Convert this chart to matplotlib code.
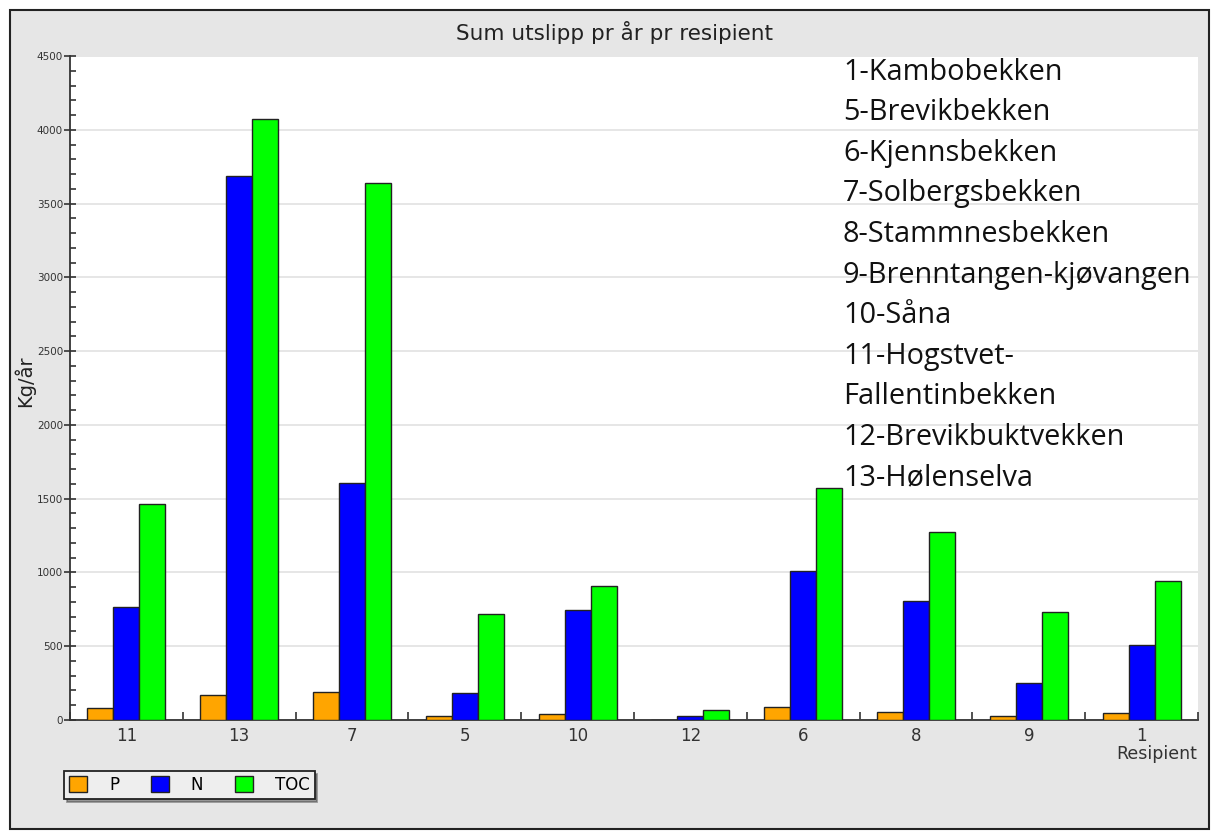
import numpy as np
import matplotlib
matplotlib.use('Agg')
import matplotlib.pyplot as plt
from matplotlib.patches import Rectangle
from matplotlib.ticker import MultipleLocator

resipienter = ['11', '13', '7', '5', '10', '12', '6', '8', '9', '1']
p_vals = [81, 169, 190, 29, 40, 0, 90, 56, 27, 45]
n_vals = [766, 3687, 1606, 183, 745, 27, 1010, 808, 253, 508]
toc_vals = [1462, 4075, 3639, 718, 910, 68, 1572, 1274, 734, 940]

navn = ['1-Kambobekken', '5-Brevikbekken', '6-Kjennsbekken', '7-Solbergsbekken',
        '8-Stammnesbekken', '9-Brenntangen-kjøvangen', '10-Såna', '11-Hogstvet-',
        'Fallentinbekken', '12-Brevikbuktvekken', '13-Hølenselva']

fig = plt.figure(figsize=(12.15, 8.32), dpi=100, facecolor='white')
# grey panel with dark frame around the whole chart
fig.patches.append(Rectangle((10 / 1215, 3 / 832), 1199 / 1215, 819 / 832,
                             transform=fig.transFigure, facecolor='#e6e6e6',
                             edgecolor='#222222', linewidth=1.5, zorder=-5))

ax = fig.add_axes([70 / 1215, 1 - 720 / 832, 1128 / 1215, 664 / 832])
ax.set_zorder(2)
ax.set_facecolor('white')

x = np.arange(len(resipienter))
w = 0.23
ax.bar(x - w, p_vals, w, color='#ffa500', edgecolor='#222222', linewidth=1, label='P', zorder=3)
ax.bar(x, n_vals, w, color='#0000ff', edgecolor='#222222', linewidth=1, label='N', zorder=3)
ax.bar(x + w, toc_vals, w, color='#00ff00', edgecolor='#222222', linewidth=1, label='TOC', zorder=3)

ax.set_xlim(-0.5, len(resipienter) - 0.5)
ax.set_ylim(0, 4500)
ax.yaxis.set_major_locator(MultipleLocator(500))
ax.yaxis.set_minor_locator(MultipleLocator(100))
ax.grid(axis='y', color='#e2e2e2', linewidth=1.2, zorder=0)

ax.set_xticks(x)
ax.set_xticklabels(resipienter, fontsize=12, color='#333333')
ax.set_xticks(np.arange(len(resipienter) + 1) - 0.5, minor=True)
ax.tick_params(axis='x', which='major', length=0, pad=5)
ax.tick_params(axis='x', which='minor', direction='in', length=6, width=1.2, color='#333333')
ax.tick_params(axis='y', which='major', direction='inout', length=8, width=1.2,
               labelsize=7.5, color='#333333', labelcolor='#333333', pad=1)
ax.tick_params(axis='y', which='minor', direction='in', length=4, width=1.2, color='#333333')

for s in ['top', 'right']:
    ax.spines[s].set_visible(False)
for s in ['left', 'bottom']:
    ax.spines[s].set_color('#333333')
    ax.spines[s].set_linewidth(1.3)

ax.set_ylabel('Kg/år', fontsize=14, color='#222222')
ax.yaxis.set_label_coords(-0.031, 0.51)
fig.text(1197 / 1215, 1 - 754 / 832, 'Resipient', ha='right', va='center',
         fontsize=12.5, color='#333333')
fig.text(614 / 1215, 1 - 32 / 832, 'Sum utslipp pr år pr resipient', ha='center',
         va='center', fontsize=15.5, color='#222222')

# list of resipient names
for i, t in enumerate(navn):
    fig.text(843 / 1215, 1 - (72 + i * 40.6) / 832, t, ha='left', va='center',
             fontsize=20.8, family='Open Sans', color='#111111', zorder=5)

leg = fig.legend(loc='upper left', bbox_to_anchor=(64 / 1215, 1 - 771 / 832), ncol=3,
                 fontsize=12, frameon=True, fancybox=False, shadow=True,
                 handlelength=1.1, handleheight=1.1, columnspacing=1.9,
                 handletextpad=1.3, borderpad=0.3, borderaxespad=0)
leg.set_zorder(5)
leg.get_frame().set_edgecolor('#222222')
leg.get_frame().set_facecolor('#eeeeee')
leg.get_frame().set_linewidth(1.3)

fig.savefig('out.png', dpi=100, facecolor='white')
